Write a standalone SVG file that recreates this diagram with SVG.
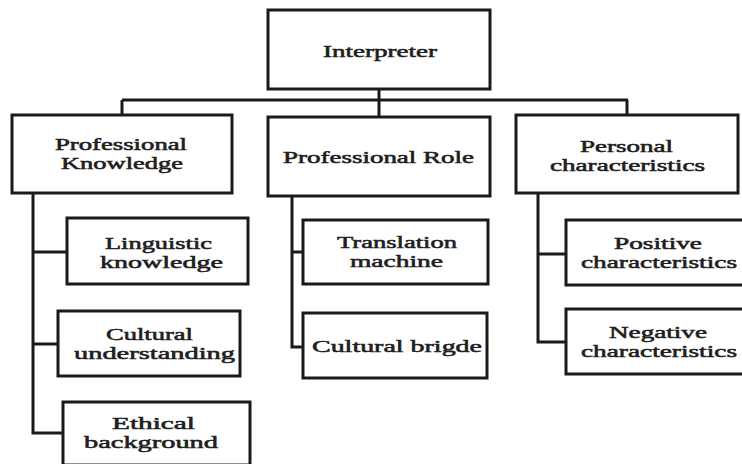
<svg xmlns="http://www.w3.org/2000/svg" width="742" height="464" viewBox="0 0 742 464">
  <style>
    .box { fill: #ffffff; stroke: #1a1a1a; stroke-width: 3; }
    .wire { fill: none; stroke: #1a1a1a; stroke-width: 3; stroke-linejoin: miter; }
    .lbl { font-family: "Liberation Serif", "Times New Roman", serif; font-size: 17px; fill: #1e1e1e; stroke: #1e1e1e; stroke-width: 0.55; }
  </style>
  <rect width="742" height="464" fill="#ffffff"/>

  <!-- connectors -->
  <g id="connectors" class="wire">
    <path d="M379 89 V100"/>
    <path d="M122 100 H628"/>
    <path d="M122 100 V115"/>
    <path d="M379 100 V117"/>
    <path d="M627 100 V115"/>
    <!-- Professional Knowledge branches -->
    <path d="M33 193 V433 H63"/>
    <path d="M33 252 H67"/>
    <path d="M33 344 H58"/>
    <!-- Professional Role branches -->
    <path d="M292 196 V347 H303"/>
    <path d="M292 252 H303"/>
    <!-- Personal characteristics branches -->
    <path d="M538 193 V342 H566"/>
    <path d="M538 254 H566"/>
  </g>

  <g id="interpreter">
    <rect class="box" x="268" y="10" width="222" height="79"/>
    <text class="lbl" x="323" y="57" textLength="114" lengthAdjust="spacingAndGlyphs">Interpreter</text>
  </g>

  <g id="professional-knowledge">
    <rect class="box" x="12" y="115" width="220" height="78"/>
    <text class="lbl" x="55" y="150" textLength="132" lengthAdjust="spacingAndGlyphs">Professional</text>
    <text class="lbl" x="61" y="169" textLength="122" lengthAdjust="spacingAndGlyphs">Knowledge</text>
  </g>

  <g id="professional-role">
    <rect class="box" x="268" y="117" width="222" height="79"/>
    <text class="lbl" x="283" y="163" textLength="191" lengthAdjust="spacingAndGlyphs">Professional Role</text>
  </g>

  <g id="personal-characteristics">
    <rect class="box" x="516" y="115" width="222" height="78"/>
    <text class="lbl" x="580" y="152" textLength="93" lengthAdjust="spacingAndGlyphs">Personal</text>
    <text class="lbl" x="550" y="171" textLength="155" lengthAdjust="spacingAndGlyphs">characteristics</text>
  </g>

  <g id="linguistic-knowledge">
    <rect class="box" x="67" y="218" width="181" height="66"/>
    <text class="lbl" x="105" y="249" textLength="107" lengthAdjust="spacingAndGlyphs">Linguistic</text>
    <text class="lbl" x="100" y="268" textLength="123" lengthAdjust="spacingAndGlyphs">knowledge</text>
  </g>

  <g id="cultural-understanding">
    <rect class="box" x="58" y="311" width="182" height="65"/>
    <text class="lbl" x="106" y="340" textLength="87" lengthAdjust="spacingAndGlyphs">Cultural</text>
    <text class="lbl" x="74" y="359" textLength="161" lengthAdjust="spacingAndGlyphs">understanding</text>
  </g>

  <g id="ethical-background">
    <rect class="box" x="63" y="402" width="187" height="63"/>
    <text class="lbl" x="112" y="429" textLength="83" lengthAdjust="spacingAndGlyphs">Ethical</text>
    <text class="lbl" x="84" y="448" textLength="134" lengthAdjust="spacingAndGlyphs">background</text>
  </g>

  <g id="translation-machine">
    <rect class="box" x="303" y="220" width="185" height="64"/>
    <text class="lbl" x="337" y="248" textLength="120" lengthAdjust="spacingAndGlyphs">Translation</text>
    <text class="lbl" x="350" y="267" textLength="93" lengthAdjust="spacingAndGlyphs">machine</text>
  </g>

  <g id="cultural-bridge">
    <rect class="box" x="303" y="313" width="184" height="65"/>
    <text class="lbl" x="312" y="352" textLength="170" lengthAdjust="spacingAndGlyphs">Cultural brigde</text>
  </g>

  <g id="positive-characteristics">
    <rect class="box" x="566" y="220" width="180" height="65"/>
    <text class="lbl" x="614" y="249" textLength="88" lengthAdjust="spacingAndGlyphs">Positive</text>
    <text class="lbl" x="581" y="268" textLength="156" lengthAdjust="spacingAndGlyphs">characteristics</text>
  </g>

  <g id="negative-characteristics">
    <rect class="box" x="566" y="309" width="180" height="65"/>
    <text class="lbl" x="609" y="338" textLength="98" lengthAdjust="spacingAndGlyphs">Negative</text>
    <text class="lbl" x="581" y="357" textLength="156" lengthAdjust="spacingAndGlyphs">characteristics</text>
  </g>
</svg>
